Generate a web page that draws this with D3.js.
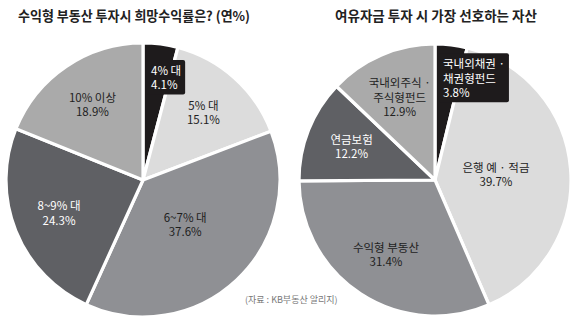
<!DOCTYPE html>
<html>
<head>
<meta charset="utf-8">
<script src="https://cdn.jsdelivr.net/npm/d3@7"></script>
<style>
  html, body { margin: 0; padding: 0; background: #fff; }
  svg { display: block; font-family: "Noto Sans CJK KR", "Noto Sans", sans-serif; }
</style>
</head>
<body>
<svg id="chart" width="580" height="324"></svg>
<script>
// ---- data ----
const leftTitle = "수익형 부동산 투자시 희망수익률은? (연%)";
const leftCategories = ["4% 대", "5% 대", "6~7% 대", "8~9% 대", "10% 이상"];
const leftValues = [4.1, 15.1, 37.6, 24.3, 18.9];

const rightTitle = "여유자금 투자 시 가장 선호하는 자산";
const rightCategories = ["국내외채권 ·\n채권형펀드", "은행 예 · 적금", "수익형 부동산", "연금보험", "국내외주식 ·\n주식형펀드"];
const rightValues = [3.8, 39.7, 31.4, 12.2, 12.9];

const sourceNote = "(자료 : KB부동산 알리지)";

// ---- styles ----
const sliceColors = ["#1e1b1c", "#dcdcdc", "#8f9094", "#5f6064", "#aaaaaa"];
const textColors  = ["#ffffff", "#222222", "#1e1e1e", "#ffffff", "#222222"];

const svg = d3.select("#chart");
const fmt = v => d3.format(".1f")(v) + "%";

function drawPie(cx, cy, R, categories, values) {
  const data = categories.map((c, i) => ({ cat: c, value: values[i], idx: i }));
  const pie = d3.pie().sort(null).value(d => d.value);
  const arcs = pie(data);
  const arc = d3.arc().innerRadius(0).outerRadius(R);
  const g = svg.append("g").attr("transform", `translate(${cx},${cy})`);

  g.selectAll("path").data(arcs).join("path")
    .attr("d", arc)
    .attr("fill", d => sliceColors[d.data.idx])
    .attr("stroke", "#fff")
    .attr("stroke-width", 3.2)
    .attr("stroke-linejoin", "round");

  const frac = d => (d.endAngle - d.startAngle) / (2 * Math.PI);
  const labelR = d => {
    const f = frac(d);
    if (f < 0.06) return R * 0.75;
    if (f > 0.35) return R * 0.45;
    return R * 0.66;
  };

  arcs.forEach(d => {
    const r = labelR(d);
    const narrow = frac(d) < 0.06;
    let [x, y] = d3.arc().innerRadius(r).outerRadius(r).centroid(d);
    if (narrow) {
      // left-align just inside the slice's leading edge (slice starts at 12 o'clock)
      x = r * Math.sin(d.startAngle) + 8;
    }
    const lines = d.data.cat.split("\n").concat([fmt(d.data.value)]);
    const lh = 14.5;
    const lg = g.append("g");
    const bg = lg.append("rect");
    const t = lg.append("text")
      .attr("text-anchor", narrow ? "start" : "middle")
      .attr("font-size", "11.5px")
      .attr("fill", textColors[d.data.idx]);
    lines.forEach((ln, k) => {
      t.append("tspan")
        .attr("x", x)
        .attr("y", y + (k - (lines.length - 1) / 2) * lh)
        .attr("dy", "0.35em")
        .text(ln);
    });
    if (narrow) {
      const bb = t.node().getBBox();
      bg.attr("x", bb.x - 4).attr("y", bb.y - 2)
        .attr("width", bb.width + 8).attr("height", bb.height + 4)
        .attr("rx", 2)
        .attr("fill", sliceColors[d.data.idx]);
    } else {
      bg.remove();
    }
  });
}

drawPie(143, 180, 137, leftCategories, leftValues);
drawPie(435, 180, 136, rightCategories, rightValues);

// titles
svg.append("text")
  .attr("x", 18).attr("y", 21)
  .attr("font-size", "13.5px").attr("font-weight", "bold")
  .attr("fill", "#222")
  .attr("textLength", 232).attr("lengthAdjust", "spacingAndGlyphs")
  .text(leftTitle);

svg.append("text")
  .attr("x", 335).attr("y", 21)
  .attr("font-size", "13.5px").attr("font-weight", "bold")
  .attr("fill", "#222")
  .attr("textLength", 202).attr("lengthAdjust", "spacingAndGlyphs")
  .text(rightTitle);

// source
svg.append("text")
  .attr("x", 245).attr("y", 303)
  .attr("font-size", "9px")
  .attr("fill", "#777")
  .text(sourceNote);
</script>
</body>
</html>
